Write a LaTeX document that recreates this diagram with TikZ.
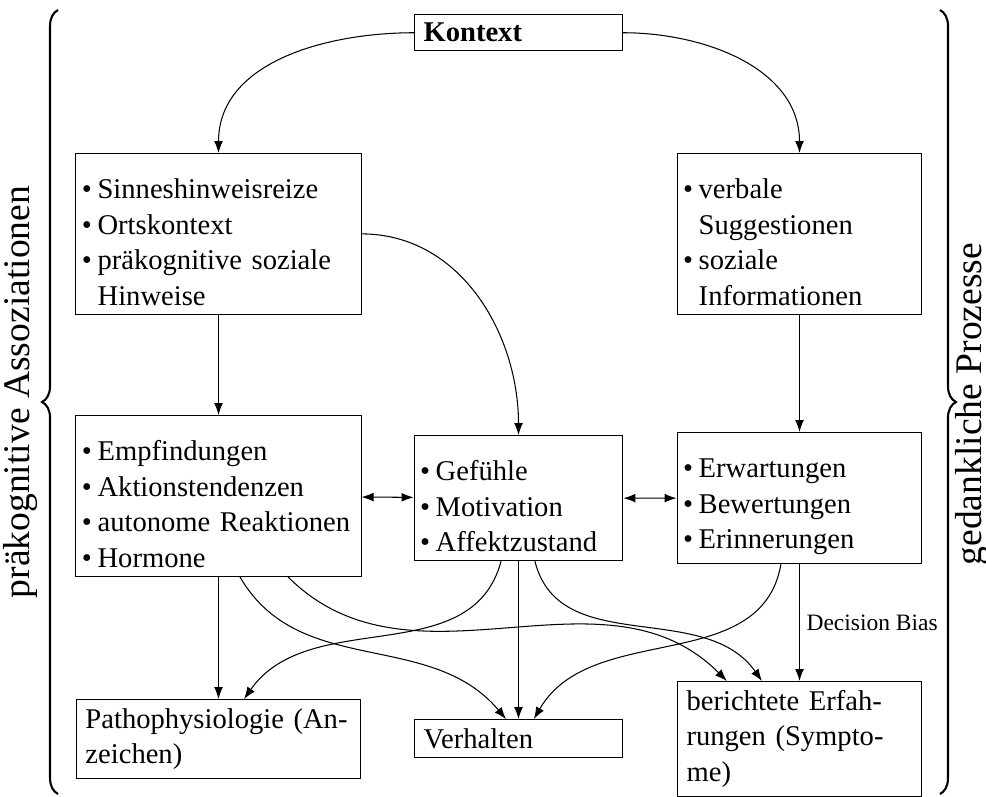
\documentclass[tikz,border=0pt]{standalone}
\usepackage{fontspec}
\setmainfont{Liberation Serif}
\usetikzlibrary{arrows.meta, decorations.pathreplacing}

\newcommand{\bl}{\makebox[6pt][l]{\textbullet}}
\newcommand{\nb}{\hspace*{6pt}}

\tikzset{
  listbox/.style={draw, rectangle, anchor=north, align=left, inner xsep=2.3pt, text height=14pt},
  textbox/.style={draw, rectangle, anchor=north, align=left},
  brc/.style={decorate, decoration={brace, amplitude=6.1pt}, thick},
}

\begin{document}
\begin{tikzpicture}[x=0.383pt, y=0.383pt, >={Latex[length=4.6pt, width=3.4pt]}, font=\fontsize{10.95pt}{13.6pt}\selectfont]
  \useasboundingbox (0,0) rectangle (986,-796);

  \node[textbox, text width=72.7pt] (kontext) at (518.5,-14) {\textbf{Kontext}};

  \node[listbox, text width=104.6pt] (sinne) at (218.5,-153) {\bl Sinneshinweisreize\\ \bl Ortskontext\\ \bl präkognitive soziale\\ \nb Hinweise};
  \node[listbox, text width=89.2pt] (verbal) at (799.5,-153) {\bl verbale\\ \nb Suggestionen\\ \bl soziale\\ \nb Informationen};

  \node[listbox, text width=104.6pt] (empf) at (218.5,-415) {\bl Empfindungen\\ \bl Aktionstendenzen\\ \bl autonome Reaktionen\\ \bl Hormone};
  \node[listbox, text width=75.4pt] (gefuehl) at (518.5,-435) {\bl Gefühle\\ \bl Motivation\\ \bl Affektzustand};
  \node[listbox, text width=89.2pt] (erwart) at (799.5,-432) {\bl Erwartungen\\ \bl Bewertungen\\ \bl Erinnerungen};

  \node[textbox, text width=101.9pt] (patho) at (218.5,-699) {Pathophysiologie (An-\\zeichen)};
  \node[textbox, text width=72.7pt] (verhalten) at (518.5,-719) {Verhalten};
  \node[textbox, text width=86.5pt] (bericht) at (799.5,-681) {berichtete Erfah-\\rungen (Sympto-\\me)};

  % braces
  \draw[brc] (58,-794) -- (58,-10);
  \draw[brc] (940,-10) -- (940,-794);
  \node[rotate=90, font=\fontsize{14.4pt}{18pt}\selectfont] (praekog) at (21,-392) {präkognitive Assoziationen};
  \node[rotate=90, font=\fontsize{14.4pt}{18pt}\selectfont] (gedankl) at (972,-404) {gedankliche Prozesse};

  \draw[->] (kontext.west) to[out=180, in=90] (sinne.north);
  \draw[->] (kontext.east) to[out=0, in=90] (verbal.north);
  \draw[->] (sinne) -- (empf);
  \draw[->] (verbal) -- (erwart);
  \draw[->] (sinne.east) to[out=0, in=90] (gefuehl.north);
  \draw[<->] (empf) -- (gefuehl);
  \draw[<->] (gefuehl) -- (erwart);
  \draw[->] (empf) -- (patho);
  \draw[->] (gefuehl) -- (verhalten);
  \draw[->] (erwart) -- node[right, inner xsep=2.5pt, font=\fontsize{9pt}{11pt}\selectfont] (bias) {Decision Bias} (bericht);

  \draw[->] ([xshift=8.2pt]empf.south) to[out=-60, in=130] ([xshift=-4.8pt]verhalten.north);
  \draw[->] ([xshift=26.6pt]empf.south) to[out=-45, in=135] ([xshift=-27.8pt]bericht.north);
  \draw[->] ([xshift=-6.7pt]gefuehl.south) to[out=-105, in=55] ([xshift=9.8pt]patho.north);
  \draw[->] ([xshift=6.3pt]gefuehl.south) to[out=-76, in=125] ([xshift=-14.4pt]bericht.north);
  \draw[->] ([xshift=-7.1pt]erwart.south) to[out=-100, in=60] ([xshift=5.9pt]verhalten.north);
\end{tikzpicture}
\end{document}
